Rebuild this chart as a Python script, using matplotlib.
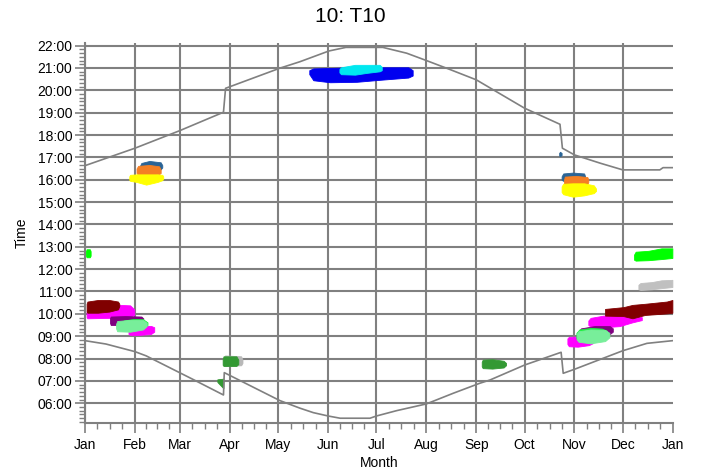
import matplotlib
matplotlib.use("Agg")
import matplotlib.pyplot as plt
import numpy as np

plt.rcParams["font.family"] = ["Liberation Sans", "DejaVu Sans"]

# month starts (day of year) and labels
month_days = [0, 31, 59, 90, 120, 151, 181, 212, 243, 273, 304, 334, 365]
month_names = ["Jan", "Feb", "Mar", "Apr", "May", "Jun", "Jul", "Aug",
               "Sep", "Oct", "Nov", "Dec", "Jan"]
hours = list(range(6, 23))

# sunset / sunrise lines (hours)
sunset_day = [0, 31, 59, 86, 87.3, 121, 133.5, 151.5, 162, 185, 199.8, 211,
              226.7, 243, 273, 295, 296.5, 304, 320, 334, 357, 359, 365]
sunset = [16.63, 17.41, 18.20, 19.02, 20.09, 20.99, 21.28, 21.76, 21.92, 21.92,
          21.66, 21.36, 20.93, 20.47, 19.20, 18.48, 17.41, 17.11, 16.74, 16.44,
          16.44, 16.54, 16.54]

sunrise_day = [0, 13, 31, 38, 67, 86, 86.5, 121, 133.5, 141.8, 151, 158.5, 177,
               181, 193.6, 212, 228.8, 245, 251.5, 273, 295.7, 297, 304, 334,
               349, 365]
sunrise = [8.80, 8.65, 8.31, 8.12, 7.07, 6.37, 7.37, 6.12, 5.78, 5.58, 5.43,
           5.33, 5.33, 5.43, 5.67, 5.97, 6.45, 6.89, 7.04, 7.71, 8.28, 7.34,
           7.52, 8.35, 8.68, 8.80]

# flicker periods: (days, start hour, end hour)
feb_steel = ([34, 35, 40, 47, 48], [16.5, 16.44, 16.44, 16.46, 16.55], [16.6, 16.75, 16.84, 16.78, 16.65])
feb_orange = ([32, 33, 40, 46, 47], [16.3, 16.22, 16.21, 16.25, 16.3], [16.5, 16.62, 16.66, 16.6, 16.45])
feb_yellow = ([27.5, 28, 32, 38, 45, 48, 48.6], [16.0, 15.95, 15.9, 15.78, 15.9, 15.98, 16.05],
              [16.15, 16.22, 16.24, 16.24, 16.24, 16.22, 16.15])
nov_dot = ([294.5, 295, 296], [17.08, 17.05, 17.1], [17.2, 17.25, 17.2])
nov_steel = ([296, 297, 303, 310, 310.6], [16.0, 15.95, 15.95, 16.0, 16.05], [16.15, 16.28, 16.32, 16.28, 16.15])
nov_orange = ([297.5, 298, 305, 312, 312.6], [15.85, 15.78, 15.77, 15.8, 15.9], [16.0, 16.14, 16.17, 16.12, 16.0])
nov_yellow = ([296, 297, 303, 310, 316, 317.4], [15.45, 15.35, 15.24, 15.3, 15.4, 15.5],
              [15.7, 15.82, 15.84, 15.84, 15.75, 15.6])
jun_blue = ([139.3, 141.8, 152.2, 168.7, 183.2, 200.8, 203.5], [20.72, 20.45, 20.36, 20.38, 20.47, 20.57, 20.66],
            [20.9, 20.98, 21.0, 21.03, 21.03, 21.03, 20.9])
jun_cyan = ([158, 159, 167.7, 175, 183, 184.3], [20.8, 20.72, 20.7, 20.78, 20.85, 20.9],
            [20.95, 21.03, 21.14, 21.14, 21.14, 21.05])
jan_green = ([0.6, 1, 3, 3.5], [12.6, 12.53, 12.53, 12.6], [12.8, 12.89, 12.89, 12.8])
jan_magenta = ([1, 1.5, 15, 22, 28, 30.6], [9.85, 9.8, 9.82, 9.85, 9.88, 9.95], [10.1, 10.2, 10.3, 10.4, 10.38, 10.2])
jan_magenta2 = ([27, 28, 34, 41, 43], [9.1, 9.06, 9.06, 9.1, 9.2], [9.25, 9.35, 9.46, 9.46, 9.4])
jan_darkred = ([1, 1.5, 8, 15, 20.5, 21.3], [10.1, 10.05, 10.05, 10.1, 10.2, 10.35], [10.45, 10.55, 10.62, 10.62, 10.55, 10.45])
jan_purple = ([15.5, 16, 25, 35, 36.2], [9.6, 9.5, 9.5, 9.6, 9.7], [9.8, 9.88, 9.9, 9.88, 9.8])
jan_rim = ([24, 30, 36, 38.8], [9.4, 9.4, 9.4, 9.5], [9.7, 9.77, 9.76, 9.62])
jan_mint = ([19.3, 20, 28, 36, 38.3], [9.35, 9.22, 9.2, 9.3, 9.45], [9.55, 9.68, 9.73, 9.72, 9.6])
apr_grey = ([86, 87, 97, 97.8], [7.7, 7.66, 7.7, 7.8], [8.0, 8.14, 8.1, 7.95])
apr_green = ([85.5, 86, 94, 95.2], [7.72, 7.67, 7.67, 7.75], [7.95, 8.1, 8.1, 7.95])
apr_green2 = ([82.2, 85.9, 86], [6.95, 6.67, 6.67], [7.07, 7.1, 7.1])
sep_green = ([246.4, 247, 253, 260, 261.5], [7.65, 7.57, 7.55, 7.6, 7.7], [7.85, 7.95, 7.97, 7.9, 7.8])
dec_magenta = ([312.6, 314, 322, 332, 340, 345.8], [9.5, 9.43, 9.4, 9.45, 9.62, 9.72], [9.7, 9.82, 9.92, 9.95, 9.95, 9.85])
nov_magenta = ([299.6, 300.5, 306, 313, 315.7], [8.65, 8.55, 8.53, 8.6, 8.7], [8.9, 8.97, 8.98, 8.95, 8.85])
dec_darkred = ([323, 334.4, 340, 347.8, 361.3, 364.8], [9.92, 9.9, 9.8, 9.95, 10.02, 10.05],
               [10.22, 10.3, 10.4, 10.45, 10.55, 10.62])
nov_purple = ([306.4, 308, 317, 326, 327.8], [9.0, 8.95, 8.98, 9.1, 9.2], [9.2, 9.35, 9.46, 9.45, 9.35])
nov_rim = ([305.2, 307, 314, 321, 324], [8.9, 8.9, 8.9, 8.9, 9.0], [9.15, 9.3, 9.37, 9.34, 9.25])
nov_mint = ([305.4, 306.5, 314, 323, 325.7], [8.85, 8.75, 8.68, 8.78, 8.95], [9.1, 9.22, 9.3, 9.28, 9.15])
dec_green = ([341, 342, 350, 358, 364.8], [12.42, 12.38, 12.4, 12.45, 12.5], [12.65, 12.78, 12.82, 12.93, 12.93])
dec_grey = ([343.7, 345, 352, 358, 364.8], [11.1, 11.07, 11.1, 11.15, 11.2], [11.3, 11.38, 11.42, 11.5, 11.52])

blobs = [
    (feb_steel, "#2a6496"), (feb_orange, "#f47f24"), (feb_yellow, "#ffff00"),
    (nov_dot, "#2a6496"), (nov_steel, "#2a6496"), (nov_orange, "#f47f24"), (nov_yellow, "#ffff00"),
    (jun_blue, "#0000f0"), (jun_cyan, "#00e8f0"),
    (jan_green, "#00ff00"),
    (jan_magenta, "#ff00ff"), (jan_magenta2, "#ff00ff"), (jan_darkred, "#800000"),
    (jan_purple, "#800080"), (jan_rim, "#22ee44"), (jan_mint, "#78ee9a"),
    (apr_grey, "#b8b8b8"), (apr_green, "#339933"), (apr_green2, "#339933"),
    (sep_green, "#339933"),
    (dec_magenta, "#ff00ff"), (nov_magenta, "#ff00ff"), (dec_darkred, "#800000"),
    (nov_purple, "#800080"), (nov_rim, "#22ee44"), (nov_mint, "#78ee9a"),
    (dec_green, "#00ff00"), (dec_grey, "#c0c0c0"),
]

grey = "#808080"

fig = plt.figure(figsize=(7.01, 4.70), dpi=100)
ax = fig.add_axes([85 / 701, 1 - 422.7 / 470, 587.7 / 701, 380 / 470])

for (d, lo, hi), c in blobs:
    ax.fill_between(d, lo, hi, color=c, lw=0.6, zorder=3)

ax.plot(sunset_day, sunset, color=grey, lw=1.2, zorder=4)
ax.plot(sunrise_day, sunrise, color=grey, lw=1.2, zorder=4)

ax.set_xlim(0, 365)
ax.set_ylim(5.13, 22.13)

ax.set_xticks(month_days)
ax.set_xticklabels(month_names)
minor_x = []
for a, b in zip(month_days[:-1], month_days[1:]):
    minor_x += [a + (b - a) * k / 4 for k in (1, 2, 3)]
ax.set_xticks(minor_x, minor=True)

ax.set_yticks(hours)
ax.set_yticklabels([f"{h:02d}:00" for h in hours])
ax.set_yticks(np.arange(31, 133) / 6, minor=True)

ax.grid(True, which="major", color=grey, lw=1.5, zorder=1)
ax.xaxis.get_gridlines()[-1].set_visible(False)
ax.set_axisbelow(True)

for s in ("top", "right"):
    ax.spines[s].set_visible(False)
for s in ("left", "bottom"):
    ax.spines[s].set_color(grey)
    ax.spines[s].set_linewidth(1.5)

ax.tick_params(which="major", length=7, width=1.2, color=grey, labelsize=10)
ax.tick_params(axis="y", which="major", pad=2)
ax.tick_params(axis="x", which="major", pad=4)
ax.tick_params(which="minor", length=4, width=1.0, color=grey)

fig.suptitle("10: T10", fontsize=15, x=0.5, y=0.985)
ax.set_xlabel("Month", fontsize=10, labelpad=3)
ax.set_ylabel("Time", fontsize=10, labelpad=6)

fig.savefig("out.png", dpi=100)
